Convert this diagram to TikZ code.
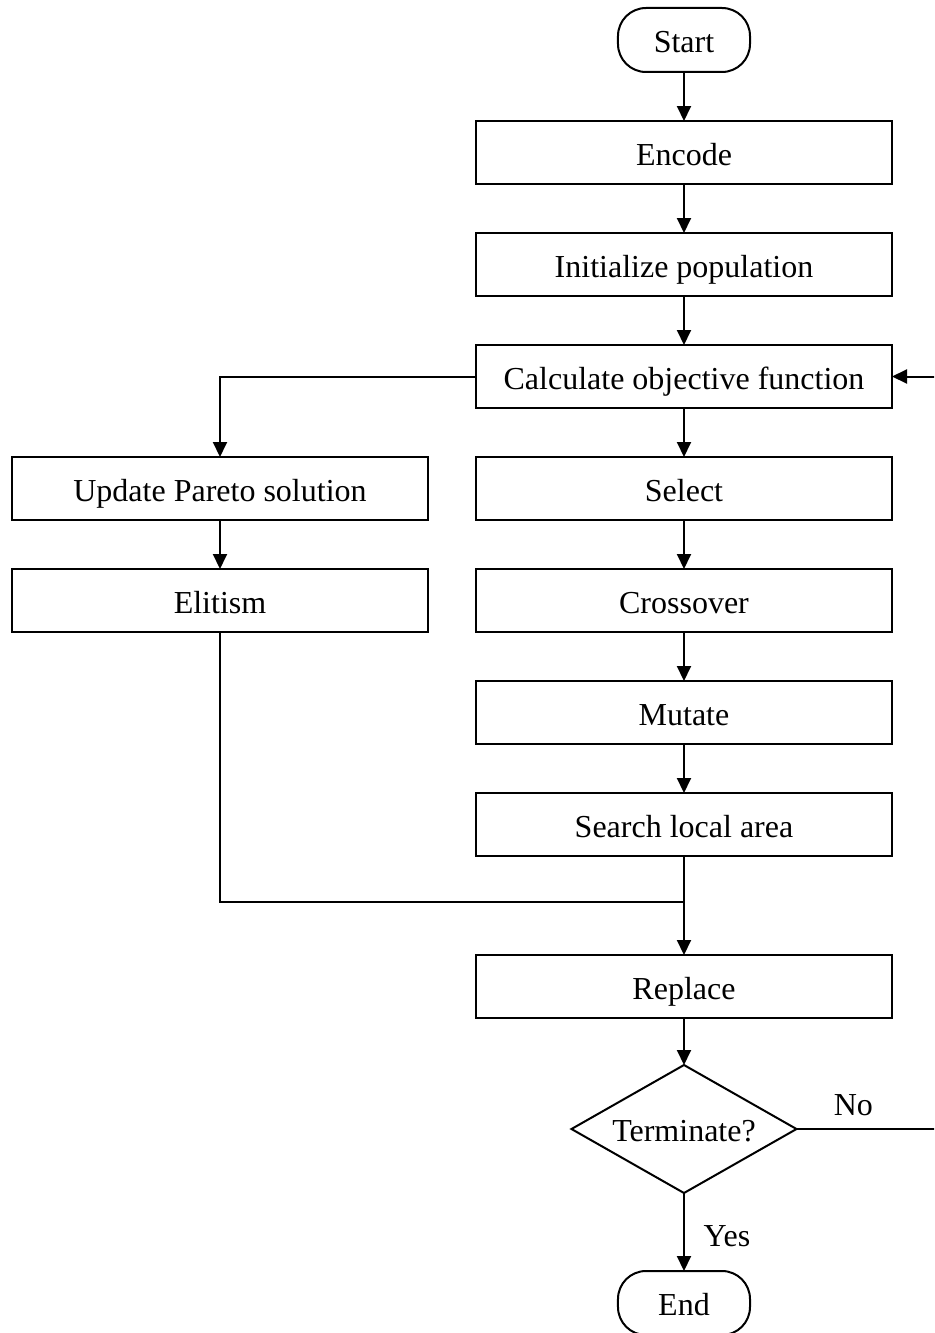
\documentclass[tikz,border=0pt]{standalone}
\usepackage{fontspec}
\setmainfont{Liberation Serif}
\usepackage{tikz}
\usetikzlibrary{shapes.geometric, arrows.meta, positioning, calc}

\begin{document}
\begin{tikzpicture}[node distance=24.5pt, auto,
    font=\fontsize{16}{19}\selectfont,
    terminal/.style={rectangle, rounded corners=14pt, draw, line width=1pt, minimum width=66pt, minimum height=32pt, inner sep=0pt, outer sep=0pt, text height=12.5pt, text depth=0pt},
    process/.style={rectangle, draw, line width=1pt, minimum width=208pt, minimum height=31.5pt, inner sep=0pt, outer sep=0pt, text height=12.5pt, text depth=0pt},
    decision/.style={diamond, draw, line width=1pt, aspect=1.76, minimum width=112.5pt, minimum height=64pt, inner sep=0pt, outer sep=0pt, text height=12pt, text depth=0pt},
    arrow/.style={draw, line width=1pt, -{Triangle[length=7.5pt, width=7pt]}},
    line/.style={draw, line width=1pt}]

    \clip (-342pt,20pt) rectangle (125pt,-646.5pt);

    \node [terminal] (start) at (0,0) {Start};
    \node [process, below=24.5pt of start] (encode) {Encode};
    \node [process, below=of encode] (init) {Initialize population};
    \node [process, below=of init] (calc) {Calculate objective function};
    \node [process, below=of calc] (select) {Select};
    \node [process, below=of select] (cross) {Crossover};
    \node [process, below=of cross] (mutate) {Mutate};
    \node [process, below=of mutate] (search) {Search local area};
    \node [process, below=49.5pt of search] (replace) {Replace};
    \node [decision, below=23.5pt of replace] (decide) {Terminate?};
    \node [terminal, below=39pt of decide] (stop) {End};

    \node [process, left=24pt of select] (pareto) {Update Pareto solution};
    \node [process, below=of pareto] (elite) {Elitism};

    \coordinate [below=23pt of search] (merge);
    \coordinate (back) at ($(decide.east -| calc.east)+(27pt,0)$);

    \path [arrow] (start) -- (encode);
    \path [arrow] (encode) -- (init);
    \path [arrow] (init) -- (calc);
    \path [arrow] (calc) -- (select);
    \path [arrow] (select) -- (cross);
    \path [arrow] (cross) -- (mutate);
    \path [arrow] (mutate) -- (search);
    \path [arrow] (search) -- (replace);
    \path [arrow] (replace) -- (decide);
    \path [arrow] (decide) -- node [right, xshift=6pt, yshift=-2pt] {Yes} (stop);

    \path [arrow] (calc.west) -| (pareto.north);
    \path [arrow] (pareto) -- (elite);
    \path [line] (elite.south) |- (merge);

    \path [arrow] (decide.east) -- node [above, pos=0.38, yshift=3pt] {No} (back) |- (calc.east);
\end{tikzpicture}
\end{document}
